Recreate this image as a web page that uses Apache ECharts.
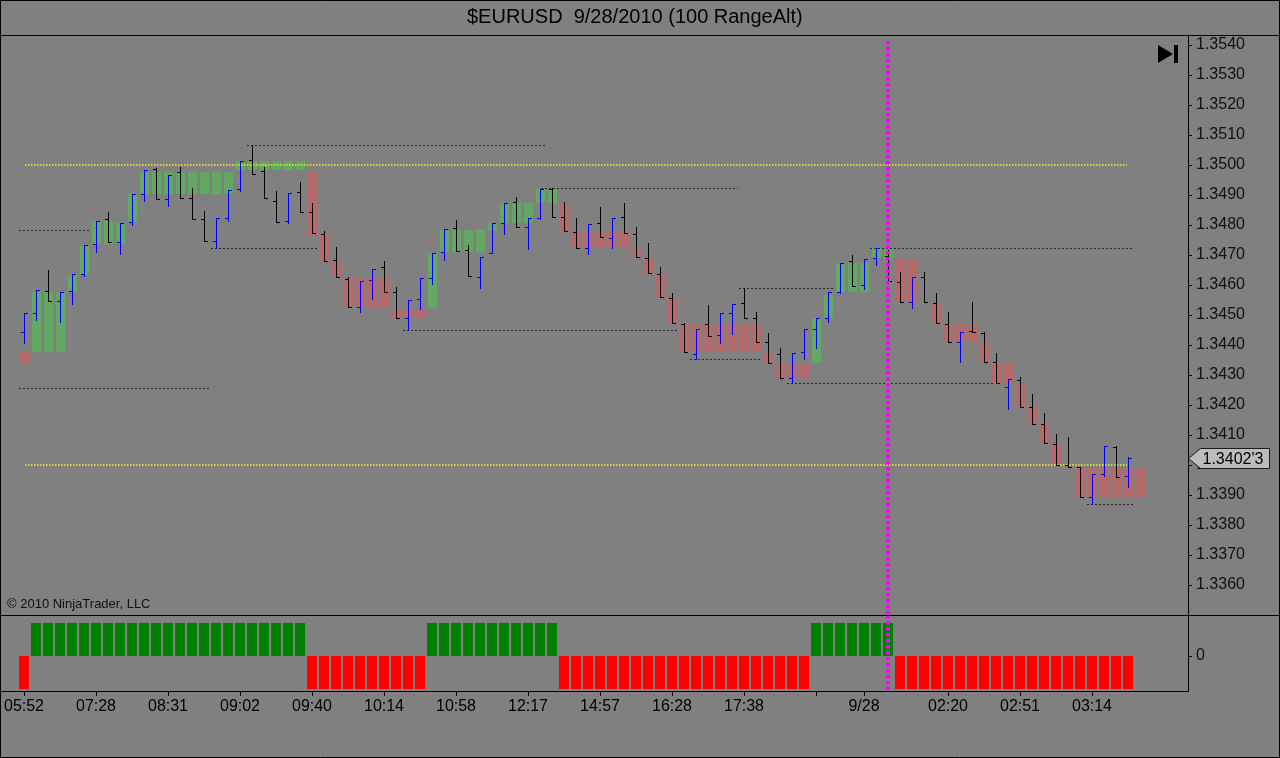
<!DOCTYPE html>
<html><head><meta charset="utf-8">
<script src="https://cdn.jsdelivr.net/npm/echarts@6/dist/echarts.min.js"></script>
<style>html,body{margin:0;padding:0;background:#808080}#c{width:1280px;height:758px}</style>
</head><body><div id="c"></div>
<script>
const TITLE = '$EURUSD  9/28/2010 (100 RangeAlt)';
const COPYRIGHT = '\u00a9 2010 NinjaTrader, LLC';

// OHLC of each range bar (index 0..92)
const barOpen = [1.34442,1.34508,1.34580,1.34548,1.34580,1.34636,1.34736,1.34820,1.34742,1.34811,
1.34903,1.34987,1.34886,1.34976,1.34889,1.34819,1.34747,1.34823,1.34920,1.35017,
1.34981,1.34880,1.34814,1.34911,1.34842,1.34770,1.34683,1.34620,1.34526,1.34617,
1.34659,1.34576,1.34489,1.34552,1.34622,1.34709,1.34789,1.34717,1.34626,1.34706,
1.34806,1.34876,1.34792,1.34822,1.34919,1.34826,1.34776,1.34722,1.34806,1.34756,
1.34828,1.34770,1.34689,1.34637,1.34556,1.34469,1.34370,1.34470,1.34433,1.34506,
1.34541,1.34489,1.34411,1.34370,1.34289,1.34376,1.34452,1.34489,1.34576,1.34680,
1.34600,1.34691,1.34698,1.34609,1.34544,1.34628,1.34539,1.34470,1.34409,1.34448,
1.34439,1.34342,1.34261,1.34283,1.34192,1.34137,1.34070,1.34000,1.33992,1.33892,
1.33970,1.34059,1.33963];
const barHigh = [1.34506,1.34583,1.34650,1.34576,1.34636,1.34733,1.34814,1.34844,1.34806,1.34903,
1.34983,1.34989,1.34967,1.34992,1.34922,1.34847,1.34822,1.34917,1.35014,1.35067,
1.34993,1.34914,1.34908,1.34944,1.34874,1.34781,1.34726,1.34626,1.34613,1.34655,
1.34680,1.34592,1.34550,1.34622,1.34706,1.34786,1.34817,1.34733,1.34692,1.34806,
1.34872,1.34894,1.34822,1.34919,1.34924,1.34878,1.34822,1.34802,1.34859,1.34822,
1.34872,1.34792,1.34739,1.34659,1.34572,1.34474,1.34452,1.34533,1.34508,1.34537,
1.34589,1.34509,1.34439,1.34389,1.34374,1.34452,1.34489,1.34576,1.34672,1.34700,
1.34687,1.34722,1.34717,1.34644,1.34626,1.34642,1.34572,1.34509,1.34444,1.34542,
1.34442,1.34372,1.34286,1.34292,1.34237,1.34174,1.34102,1.34094,1.33994,1.33970,
1.34063,1.34063,1.34026];
const barLow = [1.34406,1.34483,1.34548,1.34476,1.34536,1.34631,1.34711,1.34742,1.34703,1.34801,
1.34880,1.34888,1.34864,1.34891,1.34821,1.34746,1.34722,1.34814,1.34914,1.34969,
1.34891,1.34811,1.34806,1.34842,1.34772,1.34681,1.34626,1.34526,1.34511,1.34553,
1.34578,1.34491,1.34450,1.34520,1.34603,1.34683,1.34714,1.34631,1.34591,1.34706,
1.34770,1.34794,1.34720,1.34819,1.34826,1.34780,1.34722,1.34702,1.34759,1.34722,
1.34772,1.34692,1.34639,1.34559,1.34472,1.34376,1.34353,1.34431,1.34406,1.34437,
1.34489,1.34409,1.34339,1.34289,1.34272,1.34352,1.34389,1.34476,1.34572,1.34598,
1.34587,1.34667,1.34613,1.34542,1.34524,1.34542,1.34472,1.34409,1.34344,1.34442,
1.34342,1.34272,1.34186,1.34192,1.34137,1.34072,1.34000,1.33994,1.33892,1.33870,
1.33963,1.33961,1.33926];
const barClose = [1.34506,1.34583,1.34548,1.34576,1.34636,1.34733,1.34814,1.34742,1.34806,1.34903,
1.34983,1.34888,1.34967,1.34891,1.34821,1.34746,1.34822,1.34917,1.35014,1.34969,
1.34891,1.34811,1.34908,1.34842,1.34772,1.34681,1.34626,1.34526,1.34613,1.34655,
1.34578,1.34491,1.34550,1.34622,1.34706,1.34786,1.34714,1.34631,1.34692,1.34806,
1.34872,1.34794,1.34822,1.34919,1.34826,1.34780,1.34722,1.34802,1.34759,1.34822,
1.34772,1.34692,1.34639,1.34559,1.34472,1.34376,1.34452,1.34431,1.34508,1.34537,
1.34489,1.34409,1.34339,1.34289,1.34374,1.34452,1.34489,1.34576,1.34672,1.34598,
1.34687,1.34722,1.34613,1.34542,1.34626,1.34542,1.34472,1.34409,1.34444,1.34442,
1.34342,1.34272,1.34286,1.34192,1.34137,1.34072,1.34000,1.33994,1.33892,1.33970,
1.34063,1.33961,1.34023];

// Shaded trend boxes (index 0..93, one bar ahead at the end)
const boxTop = [1.34378,
1.34578,1.34578,1.34578,1.34633,1.34730,1.34813,1.34813,1.34806,1.34903,
1.34978,1.34978,1.34978,1.34978,1.34978,1.34978,1.34978,1.34978,
1.35014,1.35014,1.35014,1.35014,1.35014,1.35014,
1.34978,1.34770,1.34678,1.34622,1.34622,1.34622,1.34622,1.34519,1.34519,1.34519,
1.34706,1.34783,1.34783,1.34783,1.34783,1.34806,1.34872,1.34872,1.34872,1.34919,1.34919,
1.34869,1.34776,1.34776,1.34776,1.34776,1.34776,1.34720,1.34689,1.34637,1.34556,
1.34469,1.34469,1.34469,1.34469,1.34469,1.34469,1.34469,
1.34372,1.34339,1.34336,1.34336,
1.34489,1.34567,1.34672,1.34672,1.34672,1.34722,1.34717,
1.34683,1.34683,null,1.34539,1.34470,1.34470,1.34470,1.34406,1.34339,1.34339,
1.34272,1.34192,1.34136,1.34070,null,1.33992,1.33989,1.33989,1.33989,1.33989,1.33989];
const boxBottom = [1.34336,
1.34378,1.34378,1.34378,1.34578,1.34633,1.34736,1.34736,1.34736,1.34811,
1.34903,1.34903,1.34903,1.34903,1.34903,1.34903,1.34903,1.34903,
1.34983,1.34983,1.34983,1.34983,1.34983,1.34983,
1.34767,1.34678,1.34626,1.34526,1.34526,1.34526,1.34526,1.34491,1.34491,1.34491,
1.34522,1.34709,1.34709,1.34709,1.34709,1.34781,1.34806,1.34806,1.34806,1.34872,1.34872,
1.34778,1.34722,1.34722,1.34722,1.34722,1.34722,1.34692,1.34637,1.34558,1.34472,
1.34376,1.34376,1.34376,1.34376,1.34376,1.34376,1.34376,
1.34339,1.34289,1.34289,1.34289,
1.34341,1.34489,1.34576,1.34576,1.34576,1.34691,1.34683,
1.34542,1.34542,null,1.34472,1.34409,1.34409,1.34409,1.34342,1.34272,1.34272,
1.34192,1.34137,1.34072,1.34000,null,1.33892,1.33892,1.33892,1.33892,1.33892,1.33892];

// Trend direction per bar (lower panel): 1 up, -1 down
const trend = [-1,
1,1,1,1,1,1,1,1,1,1,1,1,1,1,1,1,1,1,1,1,1,1,1,
-1,-1,-1,-1,-1,-1,-1,-1,-1,-1,
1,1,1,1,1,1,1,1,1,1,1,
-1,-1,-1,-1,-1,-1,-1,-1,-1,-1,-1,-1,-1,-1,-1,-1,-1,-1,-1,-1,-1,
1,1,1,1,1,1,1,
-1,-1,-1,-1,-1,-1,-1,-1,-1,-1,-1,-1,-1,-1,-1,-1,-1,-1,-1,-1];

// Swing high / low dotted lines: start bar, end bar, price
const swingStart = [-0.4, -0.4, 18.6, 15.6, 31.6, 43.1, 59.6, 55.5, 63.6, 70.5, 88.6];
const swingEnd   = [5.5, 15.5, 43.4, 24.5, 54.5, 59.5, 67.4, 61.5, 80.9, 92.4, 92.5];
const swingPrice = [1.34783, 1.34257, 1.35068, 1.34722, 1.34450, 1.34924, 1.34589, 1.34353, 1.34272, 1.34722, 1.33870];

// Yellow reference levels
const refLevels = [1.3500, 1.3400];
const refStart = 0.1, refEnd = 91.9;

// Session break (magenta dotted) bar index
const sessionBreak = [72];

// Axis ticks
const xTickIndex  = [0, 6, 12, 18, 24, 30, 36, 42, 48, 54, 60, 66, 70, 77, 83, 89];
const xTickLabels = ['05:52','07:28','08:31','09:02','09:40','10:14','10:58','12:17','14:57','16:28','17:38','','9/28','02:20','02:51','03:14'];
const yTicks = [1.3360,1.3370,1.3380,1.3390,1.3400,1.3410,1.3420,1.3430,1.3440,1.3450,
                1.3460,1.3470,1.3480,1.3490,1.3500,1.3510,1.3520,1.3530,1.3540];

const FONT = 'Liberation Sans, Arial, sans-serif';
const X_MIN = -2, X_MAX = 97;
const Y_MIN = 1.3350, Y_MAX = 1.3540 + 10 / 30000;
const UP = '#0000ff', DOWN = '#000000';
const BOX_UP = '#62a862', BOX_DN = '#b46a6a';
const HIST_UP = '#008000', HIST_DN = '#ff0000';

const ohlcData = barOpen.map((o, i) => [i, o, barHigh[i], barLow[i], barClose[i]]);
const boxData = [];
boxTop.forEach((t, i) => {
  if (t != null) boxData.push([i, t, boxBottom[i], trend[Math.min(i, trend.length - 1)]]);
});
const histData = trend.map((v, i) => [i, v]);
const swingData = swingPrice.map((p, k) => [swingStart[k], swingEnd[k], p]);
const refData = refLevels.map(p => [refStart, refEnd, p]);
const lastIdx = barClose.length - 1;

const px = v => Math.round(v) + 0.5;

function renderBar(params, api) {
  const i = api.value(0), o = api.value(1), h = api.value(2), l = api.value(3), c = api.value(4);
  const x = px(api.coord([i, o])[0]);
  const yO = px(api.coord([i, o])[1]);
  const yH = Math.round(api.coord([i, h])[1]);
  const yL = Math.round(api.coord([i, l])[1]) + 1;
  const yC = px(api.coord([i, c])[1]);
  const col = c > o ? UP : DOWN;
  const st = {stroke: col, lineWidth: 1};
  return {type: 'group', children: [
    {type: 'line', shape: {x1: x, y1: yH, x2: x, y2: yL}, style: st},
    {type: 'line', shape: {x1: x - 3.5, y1: yO, x2: x, y2: yO}, style: st},
    {type: 'line', shape: {x1: x, y1: yC, x2: x + 3.5, y2: yC}, style: st}
  ]};
}

function renderBox(params, api) {
  const i = api.value(0);
  const p1 = api.coord([i, api.value(1)]);
  const p2 = api.coord([i, api.value(2)]);
  const cx = Math.round(p1[0]);
  const y1 = Math.round(p1[1]), y2 = Math.round(p2[1]);
  return {type: 'rect', shape: {x: cx - 4, y: y1, width: 9, height: Math.max(1, y2 - y1)},
    style: {fill: api.value(3) > 0 ? BOX_UP : BOX_DN}};
}

function renderHist(params, api) {
  const i = api.value(0), v = api.value(1);
  const p1 = api.coord([i, v]);
  const p0 = api.coord([i, 0]);
  const cx = Math.round(p1[0]);
  const yT = Math.round(Math.min(p1[1], p0[1])), yB = Math.round(Math.max(p1[1], p0[1]));
  return {type: 'rect', shape: {x: cx - 5, y: yT, width: 10, height: yB - yT},
    style: {fill: v > 0 ? HIST_UP : HIST_DN}};
}

function makeHLine(color, dash, width) {
  return function (params, api) {
    const a = api.coord([api.value(0), api.value(2)]);
    const b = api.coord([api.value(1), api.value(2)]);
    const y = width > 1 ? Math.round(a[1]) : px(a[1]);
    return {type: 'line', shape: {x1: Math.round(a[0]), y1: y, x2: Math.round(b[0]), y2: y},
      style: {stroke: color, lineWidth: width, lineDash: dash}};
  };
}

function makeVLine(topPad, botPad) {
  return function (params, api) {
    const cs = params.coordSys;
    const x = Math.round(api.coord([api.value(0), 0])[0]);
    return {type: 'line', shape: {x1: x, y1: cs.y + topPad, x2: x, y2: cs.y + cs.height - botPad},
      style: {stroke: '#ff00ff', lineWidth: 4, lineDash: [3.5, 2.5]}};
  };
}

function fmtTick(v) {
  const s = v.toFixed(5);
  return s.slice(0, 6) + "'" + s.slice(6);
}

function renderMarker(params, api) {
  const cs = params.coordSys;
  const y = px(api.coord([api.value(0), api.value(1)])[1]);
  const x0 = cs.x + cs.width + 0.5;
  return {type: 'group', children: [
    {type: 'polygon', shape: {points: [[x0, y], [x0 + 12, y - 10], [x0 + 81, y - 10], [x0 + 81, y + 10], [x0 + 12, y + 10]]},
      style: {fill: '#bcbcbc', stroke: '#1a1a1a', lineWidth: 1}},
    {type: 'text', x: x0 + 14, y: y + 1,
      style: {text: fmtTick(api.value(1)), fill: '#000', font: '16px ' + FONT,
        textAlign: 'left', align: 'left', textVerticalAlign: 'middle', verticalAlign: 'middle'}}
  ]};
}

const chart = echarts.init(document.getElementById('c'), null, {renderer: 'canvas', width: 1280, height: 758});
chart.setOption({
  backgroundColor: '#808080',
  animation: false,
  title: {text: TITLE, left: 462, top: 2,
    textStyle: {fontSize: 20, fontWeight: 'normal', color: '#000', fontFamily: FONT}},
  grid: [
    {left: 0, top: 35, width: 1188, height: 580},
    {left: 0, top: 615, width: 1188, height: 76}
  ],
  xAxis: [
    {type: 'value', gridIndex: 0, min: X_MIN, max: X_MAX,
      axisLine: {show: false, onZero: false}, axisTick: {show: false}, axisLabel: {show: false}, splitLine: {show: false}},
    {type: 'value', gridIndex: 1, min: X_MIN, max: X_MAX, position: 'bottom',
      axisLine: {show: true, onZero: false, lineStyle: {color: '#000', width: 1}},
      axisTick: {show: true, customValues: xTickIndex, length: 5, lineStyle: {color: '#000'}},
      axisLabel: {customValues: xTickIndex, margin: 8, color: '#000', fontSize: 16, fontFamily: FONT,
        formatter: v => { const k = xTickIndex.indexOf(Math.round(v)); return k >= 0 ? xTickLabels[k] : ''; }},
      splitLine: {show: false}}
  ],
  yAxis: [
    {type: 'value', gridIndex: 0, position: 'right', min: Y_MIN, max: Y_MAX,
      axisLine: {show: true, onZero: false, lineStyle: {color: '#000', width: 1}},
      axisTick: {show: true, customValues: yTicks, length: 4, lineStyle: {color: '#000'}},
      axisLabel: {customValues: yTicks, margin: 8, color: '#111', fontSize: 16, fontFamily: FONT,
        formatter: v => v.toFixed(4)},
      splitLine: {show: false}},
    {type: 'value', gridIndex: 1, position: 'right', min: -35 / 33, max: 41 / 33,
      axisLine: {show: true, onZero: false, lineStyle: {color: '#000', width: 1}},
      axisTick: {show: true, customValues: [0], length: 4, lineStyle: {color: '#000'}},
      axisLabel: {customValues: [0], margin: 8, color: '#111', fontSize: 16, fontFamily: FONT,
        formatter: v => String(Math.round(v))},
      splitLine: {show: false}}
  ],
  series: [
    {name: 'Trend boxes', type: 'custom', xAxisIndex: 0, yAxisIndex: 0, z: 1,
      renderItem: renderBox, data: boxData, encode: {x: 0, y: [1, 2]}},
    {name: 'Levels', type: 'custom', xAxisIndex: 0, yAxisIndex: 0, z: 2,
      renderItem: makeHLine('#f2f21e', [1.5, 1.5], 1.6), data: refData, encode: {x: [0, 1], y: 2}},
    {name: 'Swings', type: 'custom', xAxisIndex: 0, yAxisIndex: 0, z: 2,
      renderItem: makeHLine('#2a2a2a', [2, 2], 1), data: swingData, encode: {x: [0, 1], y: 2}},
    {name: '$EURUSD', type: 'custom', xAxisIndex: 0, yAxisIndex: 0, z: 3,
      renderItem: renderBar, data: ohlcData, encode: {x: 0, y: [1, 2, 3, 4]}},
    {name: 'Session', type: 'custom', xAxisIndex: 0, yAxisIndex: 0, z: 5, clip: false,
      renderItem: makeVLine(6, 0), data: sessionBreak.map(v => [v])},
    {name: 'Last', type: 'custom', xAxisIndex: 0, yAxisIndex: 0, z: 6, clip: false,
      renderItem: renderMarker, data: [[lastIdx, barClose[lastIdx]]]},
    {name: 'Trend', type: 'custom', xAxisIndex: 1, yAxisIndex: 1, z: 3,
      renderItem: renderHist, data: histData, encode: {x: 0, y: 1}},
    {name: 'Session2', type: 'custom', xAxisIndex: 1, yAxisIndex: 1, z: 5, clip: false,
      renderItem: makeVLine(0, 1), data: sessionBreak.map(v => [v])}
  ],
  graphic: [
    {type: 'rect', z: 10, shape: {x: 0.5, y: 0.5, width: 1279, height: 757}, style: {fill: 'none', stroke: '#000', lineWidth: 1}},
    {type: 'line', z: 10, shape: {x1: 0, y1: 35.5, x2: 1280, y2: 35.5}, style: {stroke: '#000', lineWidth: 1}},
    {type: 'line', z: 10, shape: {x1: 0, y1: 615.5, x2: 1280, y2: 615.5}, style: {stroke: '#000', lineWidth: 1}},
    {type: 'polygon', z: 10, shape: {points: [[1158, 45], [1158, 63], [1173, 54]]}, style: {fill: '#000'}},
    {type: 'rect', z: 10, shape: {x: 1174, y: 45, width: 4, height: 18}, style: {fill: '#000'}},
    {type: 'text', z: 10, left: 7, top: 598, style: {text: COPYRIGHT, fill: '#111', font: '13px ' + FONT}}
  ]
});
</script>
</body></html>
